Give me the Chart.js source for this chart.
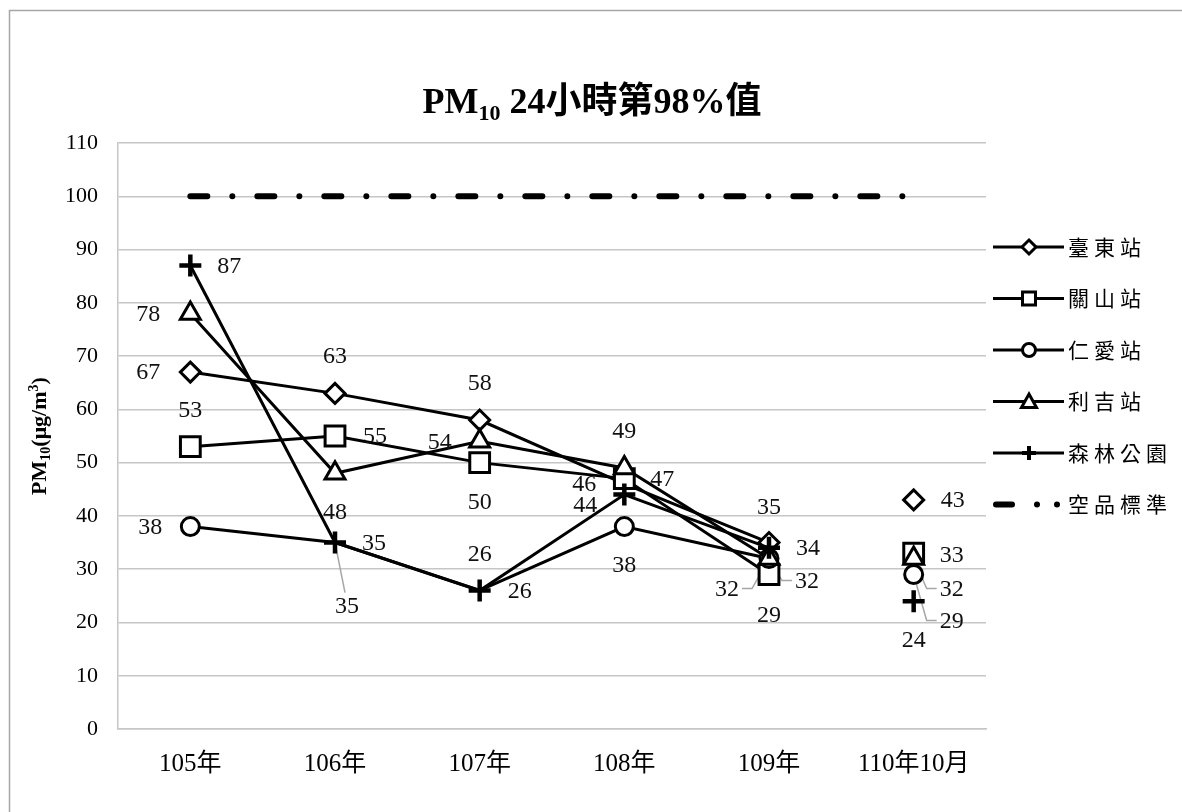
<!DOCTYPE html>
<html>
<head>
<meta charset="utf-8">
<script src="https://cdn.jsdelivr.net/npm/chart.js@4.4.0/dist/chart.umd.min.js"></script>
<style>
html, body { margin: 0; padding: 0; background: #fff; }
</style>
</head>
<body>
<canvas id="mychart" width="1182" height="812"></canvas>
<script>
// data
const years = ['105年', '106年', '107年', '108年', '109年', '110年10月'];
const taitung = [67, 63, 58, 46, 35, 43];
const guanshan = [53, 55, 50, 47, 29, 33];
const renai = [38, 35, 26, 38, 32, 29];
const liji = [78, 48, 54, 49, 32, 32];
const forestPark = [87, 35, 26, 44, 34, 24];
const standard = [100, 100, 100, 100, 100, 100];
const yTicks = [0, 10, 20, 30, 40, 50, 60, 70, 80, 90, 100, 110];

// where each value label sits, relative to its point (px)
const taitungLbl = [[-42, 0], [0, -38], [0, -37], [-40, 0], [0, -36], [39, 0]];
const guanshanLbl = [[0, -37], [40, 0], [0, 39], [38, 0], [0, 40], [38, 2]];
const renaiLbl = [[-40, 0], [12, 63], [0, -37], [0, 38], [-42, 30], [38, 46]];
const lijiLbl = [[-42, 0], [0, 38], [-40, 0], [0, -37], [38, 22], [38, 30]];
const forestLbl = [[39, 0], [39, 0], [40, 0], [-39, 10], [39, 0], [0, 39]];

const serif = "'Liberation Serif', 'Noto Sans CJK TC', serif";
const cjk = "'Noto Sans CJK TC', 'Liberation Serif', serif";
const gridGrey = '#c6c6c6';

// no segment from 109 to 110 (110 is a partial year)
const gapLast = { borderColor: ctx => ctx.p1DataIndex === 5 ? 'rgba(0,0,0,0)' : undefined };

function station(label, data, style, radius, lbl, hidden, order) {
    return {
        label: label,
        data: data,
        lbl: lbl,
        order: order,
        borderColor: '#000',
        borderWidth: 3,
        pointStyle: style,
        pointRadius: data.map((v, i) => hidden.includes(i) ? 0 : radius),
        pointBorderWidth: style === 'cross' ? 4.5 : 3,
        pointBackgroundColor: '#fff',
        pointBorderColor: '#000',
        segment: gapLast,
        tension: 0
    };
}

// later series are drawn on top, as in the original
const datasets = [
    station('臺東站', taitung, 'rectRot', 10, taitungLbl, [3], 6),
    station('關山站', guanshan, 'rect', 14, guanshanLbl, [], 5),
    station('仁愛站', renai, 'circle', 9, renaiLbl, [1, 2], 4),
    station('利吉站', liji, 'triangle', 11.5, lijiLbl, [], 3),
    station('森林公園', forestPark, 'cross', 11, forestLbl, [], 2),
    {
        label: '空品標準',
        data: standard,
        order: 1,
        borderColor: '#000',
        borderWidth: 6,
        borderDash: [17, 25, 0, 25],
        borderCapStyle: 'round',
        pointRadius: 0,
        tension: 0
    }
];

const frame = {
    id: 'frame',
    beforeDraw(chart) {
        const ctx = chart.ctx;
        ctx.save();
        ctx.fillStyle = '#fff';
        ctx.fillRect(0, 0, chart.width, chart.height);
        ctx.strokeStyle = '#a6a6a6';
        ctx.lineWidth = 1.5;
        ctx.strokeRect(9.5, 10.5, 1400, 1000);
        ctx.restore();
    }
};

// grey leader lines under the markers
const leaders = {
    id: 'leaders',
    beforeDatasetsDraw(chart) {
        const ctx = chart.ctx;
        ctx.save();
        ctx.strokeStyle = '#a6a6a6';
        ctx.lineWidth = 1.5;
        chart.data.datasets.forEach((ds, di) => {
            if (!ds.lbl) return;
            chart.getDatasetMeta(di).data.forEach((pt, i) => {
                const [dx, dy] = ds.lbl[i];
                const offDiag = Math.abs(dx) > 15 && Math.abs(dy) > 15;
                if (!offDiag && Math.abs(dy) < 50) return;
                const lx = pt.x + dx, ly = pt.y + dy;
                ctx.beginPath();
                if (Math.abs(dx) < 20) {
                    ctx.moveTo(lx - 2, ly - Math.sign(dy) * 13);
                } else {
                    const sx = lx - Math.sign(dx) * 15;
                    ctx.moveTo(sx, ly);
                    ctx.lineTo(sx - Math.sign(dx) * 10, ly);
                }
                ctx.lineTo(pt.x, pt.y);
                ctx.stroke();
            });
        });
        ctx.restore();
    }
};

const valueLabels = {
    id: 'valueLabels',
    afterDatasetsDraw(chart) {
        const ctx = chart.ctx;
        ctx.save();
        ctx.font = '24px ' + serif;
        ctx.fillStyle = '#111';
        ctx.textAlign = 'center';
        ctx.textBaseline = 'middle';
        chart.data.datasets.forEach((ds, di) => {
            if (!ds.lbl) return;
            chart.getDatasetMeta(di).data.forEach((pt, i) => {
                const [dx, dy] = ds.lbl[i];
                ctx.fillText(String(ds.data[i]), pt.x + dx, pt.y + dy + 1);
            });
        });
        ctx.restore();
    }
};

function marker(ctx, style, x, y) {
    ctx.beginPath();
    if (style === 'rectRot') {
        ctx.moveTo(x, y - 7); ctx.lineTo(x + 7, y); ctx.lineTo(x, y + 7); ctx.lineTo(x - 7, y); ctx.closePath();
    } else if (style === 'rect') {
        ctx.rect(x - 6.5, y - 6.5, 13, 13);
    } else if (style === 'circle') {
        ctx.arc(x, y, 6.5, 0, Math.PI * 2);
    } else if (style === 'triangle') {
        ctx.moveTo(x, y - 7.5); ctx.lineTo(x + 7.5, y + 6); ctx.lineTo(x - 7.5, y + 6); ctx.closePath();
    } else if (style === 'cross') {
        ctx.moveTo(x - 7, y); ctx.lineTo(x + 7, y); ctx.moveTo(x, y - 7); ctx.lineTo(x, y + 7);
        ctx.lineWidth = 4;
        ctx.stroke();
        return;
    }
    ctx.fillStyle = '#fff';
    ctx.fill();
    ctx.lineWidth = 3;
    ctx.stroke();
}

const sideLegend = {
    id: 'sideLegend',
    afterDraw(chart) {
        const ctx = chart.ctx;
        ctx.save();
        ctx.strokeStyle = '#000';
        ctx.fillStyle = '#000';
        chart.data.datasets.forEach((ds, i) => {
            const y = 247 + i * 51.5;
            if (ds.borderDash) {
                ctx.lineCap = 'round';
                ctx.lineWidth = 6;
                ctx.beginPath();
                ctx.moveTo(996, y); ctx.lineTo(1012, y);
                ctx.stroke();
                ctx.beginPath(); ctx.arc(1037, y, 3, 0, Math.PI * 2); ctx.fill();
                ctx.beginPath(); ctx.arc(1057, y, 3, 0, Math.PI * 2); ctx.fill();
            } else {
                ctx.lineCap = 'butt';
                ctx.lineWidth = 3;
                ctx.beginPath();
                ctx.moveTo(993, y); ctx.lineTo(1064, y);
                ctx.stroke();
                marker(ctx, ds.pointStyle, 1029, y);
            }
            ctx.fillStyle = '#000';
            ctx.font = '21px ' + cjk;
            ctx.letterSpacing = '5px';
            ctx.textAlign = 'left';
            ctx.textBaseline = 'middle';
            ctx.fillText(ds.label, 1068, y);
            ctx.letterSpacing = '0px';
        });
        ctx.restore();
    }
};

// draws text pieces [text, sizeScale, baselineShift]
function richText(ctx, parts, size, weight, x, y) {
    let w = 0;
    parts.forEach(p => {
        ctx.font = weight + ' ' + Math.round(size * p[1]) + 'px ' + serif;
        w += ctx.measureText(p[0]).width;
    });
    let cx = x - w / 2;
    parts.forEach(p => {
        ctx.font = weight + ' ' + Math.round(size * p[1]) + 'px ' + serif;
        ctx.fillText(p[0], cx, y + p[2] * size);
        cx += ctx.measureText(p[0]).width;
    });
}

const titles = {
    id: 'titles',
    afterDraw(chart) {
        const ctx = chart.ctx;
        ctx.save();
        ctx.fillStyle = '#000';
        ctx.textBaseline = 'alphabetic';
        ctx.textAlign = 'left';
        richText(ctx, [['PM', 1, 0], ['10', 0.62, 0.2], [' 24小時第98%值', 1, 0]], 36, 'bold', 592, 113);
        ctx.translate(46, 436);
        ctx.rotate(-Math.PI / 2);
        richText(ctx, [['PM', 1, 0], ['10', 0.62, 0.2], ['(μg/m', 1, 0], ['3', 0.62, -0.38], [')', 1, 0]], 22, 'bold', 0, 0);
        ctx.restore();
    }
};

new Chart(document.getElementById('mychart'), {
    type: 'line',
    data: { labels: years, datasets: datasets },
    options: {
        responsive: false,
        animation: false,
        events: [],
        layout: { padding: { left: 58, right: 196, top: 143, bottom: 33 } },
        plugins: {
            legend: { display: false },
            title: { display: false },
            tooltip: { enabled: false }
        },
        scales: {
            x: {
                offset: true,
                grid: { display: false, drawTicks: false },
                border: { display: true, color: gridGrey, width: 1.5 },
                ticks: { color: '#000', padding: 20, maxRotation: 0, font: { family: serif, size: 25 } },
                afterFit: s => { s.height = 50; }
            },
            y: {
                min: 0,
                max: 110,
                afterBuildTicks: s => { s.ticks = yTicks.map(v => ({ value: v })); },
                grid: { color: gridGrey, lineWidth: 1.5, drawTicks: false },
                border: { display: true, color: gridGrey, width: 1.5 },
                ticks: { color: '#000', padding: 20, font: { family: serif, size: 22 } },
                afterFit: s => { s.width = 60; }
            }
        }
    },
    plugins: [frame, leaders, valueLabels, sideLegend, titles]
});
</script>
</body>
</html>
